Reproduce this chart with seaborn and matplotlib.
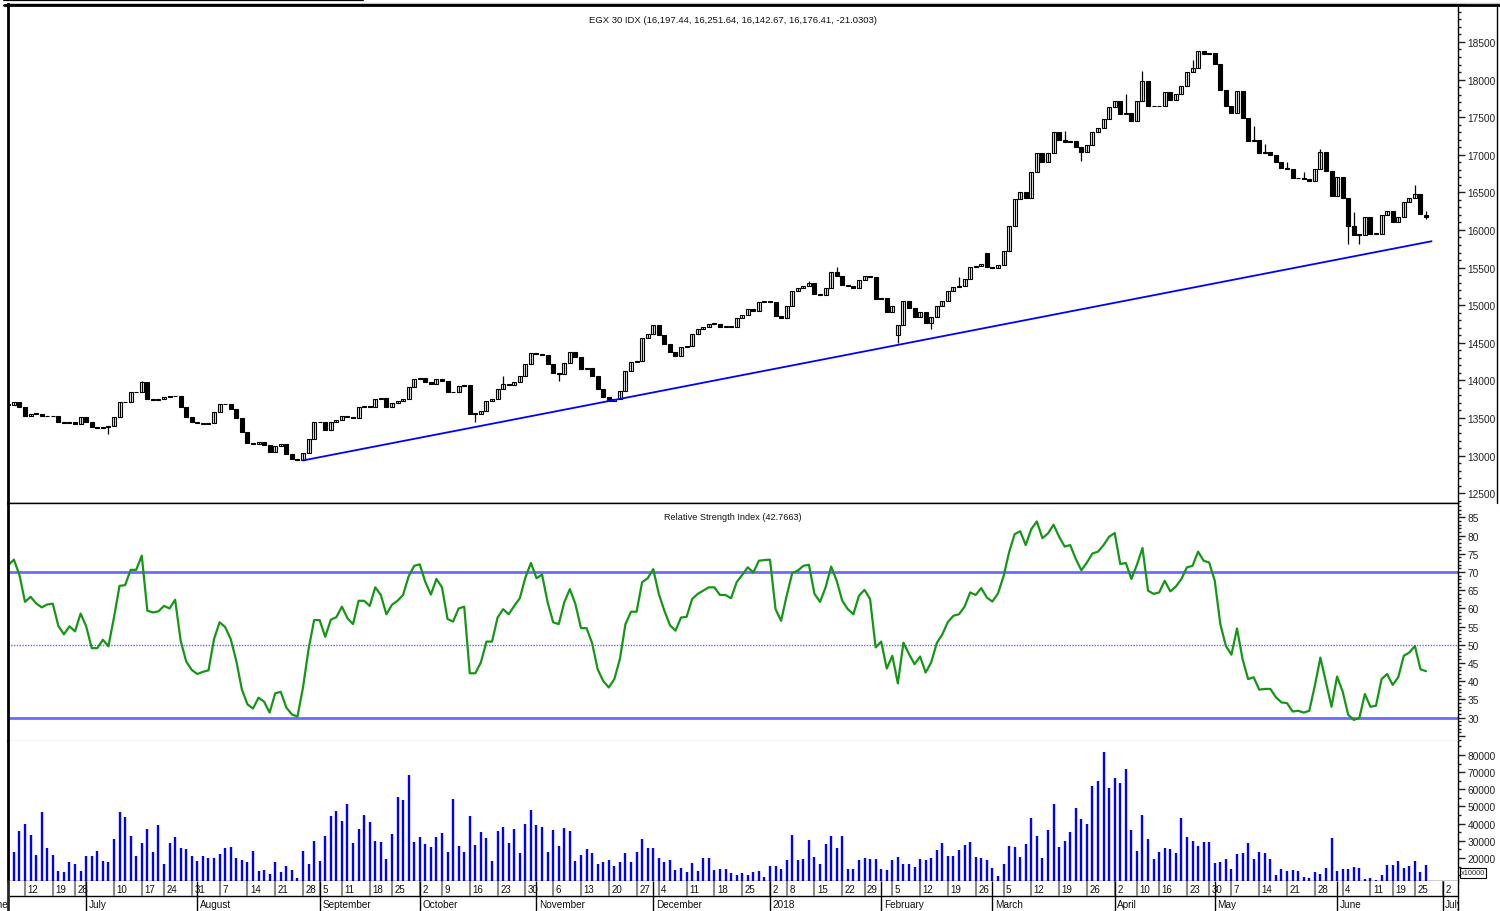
import numpy as np
import pandas as pd
import matplotlib
matplotlib.use("Agg")
import matplotlib.pyplot as plt
from matplotlib.lines import Line2D
from matplotlib.ticker import MultipleLocator, FuncFormatter
import seaborn as sns

# trading calendar (vendor shows Mon-Fri dates, exchange holidays removed)
first_day = "2017-06-07"
holidays = ["2017-06-23", "2017-06-26", "2017-06-27", "2017-06-30", "2017-07-20",
            "2017-08-31", "2017-09-01", "2017-09-04", "2017-09-21", "2017-10-06",
            "2017-11-30", "2018-01-01", "2018-01-05", "2018-01-25", "2018-04-06",
            "2018-04-09", "2018-04-25", "2018-05-01", "2018-06-15", "2018-06-18"]

# EGX 30 daily closes
close = [
    13672, 13708, 13641, 13522, 13553, 13553, 13522, 13522, 13530, 13451,
    13433, 13451, 13420, 13508, 13451, 13375, 13362, 13375, 13389, 13508,
    13708, 13717, 13841, 13850, 13974, 13752, 13743, 13752, 13774, 13788,
    13796, 13641, 13508, 13442, 13429, 13420, 13433, 13575, 13686, 13681,
    13619, 13495, 13318, 13167, 13154, 13185, 13145, 13052, 13132, 13154,
    13021, 12954, 12941, 13030, 13220, 13442, 13451, 13344, 13451, 13477,
    13530, 13508, 13495, 13641, 13663, 13641, 13752, 13761, 13641, 13699,
    13730, 13752, 13907, 14018, 14027, 13974, 13952, 14018, 13996, 13850,
    13841, 13921, 13938, 13553, 13553, 13597, 13730, 13752, 13885, 13952,
    13939, 13974, 14054, 14218, 14364, 14351, 14337, 14218, 14098, 14085,
    14231, 14373, 14306, 14151, 14160, 14063, 13885, 13774, 13730, 13752,
    13863, 14129, 14249, 14262, 14559, 14617, 14736, 14603, 14484, 14373,
    14320, 14440, 14453, 14617, 14683, 14705, 14750, 14750, 14705, 14719,
    14705, 14825, 14869, 14949, 14927, 15038, 15060, 15047, 14860, 14825,
    14985, 15193, 15224, 15259, 15295, 15149, 15135, 15224, 15446, 15384,
    15268, 15251, 15224, 15339, 15392, 15370, 15082, 15091, 14905, 14985,
    14736, 15060, 14958, 14838, 14905, 14763, 14838, 14993, 15060, 15193,
    15237, 15259, 15348, 15503, 15517, 15548, 15503, 15490, 15534, 15725,
    16049, 16412, 16501, 16421, 16767, 17024, 16909, 17024, 17299, 17201,
    17166, 17188, 17099, 17042, 17130, 17299, 17352, 17476, 17631, 17720,
    17543, 17556, 17454, 17720, 17986, 17645, 17645, 17654, 17831, 17733,
    17809, 17920, 18106, 18150, 18385, 18341, 18354, 18208, 17866, 17645,
    17556, 17853, 17485, 17188, 17201, 17024, 17042, 16997, 16909, 16820,
    16811, 16687, 16687, 16678, 16656, 16811, 17033, 16789, 16448, 16700,
    16421, 16049, 15933, 15933, 16168, 15947, 15947, 16199, 16257, 16111,
    16168, 16368, 16421, 16479, 16213, 16176.41]

# opens that gap away from the previous close, and visible wicks
open_fix = {160: 14603, 176: 15694, 255: 16197.44}
high_fix = {24: 13996, 89: 14063, 144: 15326, 149: 15503, 171: 15370, 190: 17321,
            201: 17809, 204: 18119, 213: 18265, 224: 17387, 226: 17144, 230: 16909,
            233: 16767, 236: 17077, 242: 16235, 253: 16598, 255: 16251.64}
low_fix = {18: 13287, 84: 13451, 99: 13996, 160: 14497, 166: 14683, 193: 16922,
           241: 15814, 243: 15814, 255: 16142.67}

rsi = [
    71.9, 73.4, 69.2, 61.8, 63.2, 61.4, 60.3, 61.1, 61.3, 55.2,
    52.9, 55.1, 53.7, 58.6, 55.1, 49.1, 49.1, 51.4, 49.6, 57.5,
    66.2, 66.4, 70.6, 70.6, 74.5, 59.4, 58.9, 59.2, 60.7, 60.0,
    62.4, 51.1, 45.4, 43.1, 42.0, 42.6, 43.0, 51.6, 56.2, 54.9,
    51.6, 45.6, 37.8, 33.7, 32.5, 35.5, 34.4, 31.4, 36.7, 37.1,
    32.8, 30.9, 30.3, 38.3, 48.8, 56.8, 56.8, 52.2, 56.9, 57.6,
    60.5, 57.3, 55.7, 62.1, 62.1, 60.7, 65.8, 63.7, 58.4, 61.0,
    62.1, 63.7, 68.8, 71.7, 72.1, 67.3, 63.8, 68.1, 65.8, 57.1,
    56.4, 60.0, 60.5, 42.2, 42.2, 45.2, 50.9, 50.9, 57.5, 59.8,
    58.4, 60.7, 62.8, 68.5, 72.5, 68.3, 69.3, 61.7, 56.2, 55.7,
    61.7, 65.3, 61.2, 54.6, 54.6, 50.5, 43.3, 40.1, 38.3, 40.6,
    46.1, 55.7, 59.1, 59.1, 67.2, 68.3, 70.8, 64.0, 59.4, 55.4,
    53.9, 57.5, 57.7, 62.6, 64.0, 64.9, 65.8, 65.8, 63.7, 63.7,
    62.8, 67.2, 69.2, 71.3,
    69.9, 73.1, 73.3, 73.4, 59.8, 56.6, 63.5, 69.7, 70.4, 71.7,
    72.0, 64.0, 61.8, 65.8, 71.5, 67.6, 62.1, 59.8, 58.4, 63.5,
    65.1, 62.6, 49.3, 50.9, 43.5, 47.0, 39.4, 50.6, 47.5, 44.7,
    46.8, 42.4, 45.2, 50.5, 52.9, 56.3, 58.0, 58.4, 60.5, 64.4,
    63.7, 65.6, 63.0, 61.9, 64.1, 68.8, 75.4, 80.4, 81.2, 77.4,
    81.8, 83.9, 79.3, 80.6, 83.0, 79.7, 77.0, 77.4, 73.6, 70.5,
    72.6, 75.1, 75.6, 77.4, 79.7, 80.7, 72.2, 72.5, 68.1, 72.0,
    76.6, 64.9, 64.0, 64.4, 67.6, 64.7, 66.0, 68.1, 71.3, 71.7,
    75.6, 73.1, 72.6, 67.6, 55.7, 49.7, 47.3, 54.5, 46.1, 40.6,
    41.1, 37.7, 37.9, 37.9, 35.6, 34.2, 34.0, 31.7, 31.9, 31.4,
    31.9, 38.8, 46.5, 39.7, 33.0, 41.3, 37.2, 30.8, 29.4, 29.9,
    36.5, 33.0, 33.3, 40.6, 42.0, 39.0, 41.1, 47.0, 47.9, 49.7,
    43.3, 42.77]

volume = [
    28700, 23700, 35500, 39600, 33400, 21800, 47000, 25800, 21800, 12600,
    11700, 17900, 16300, 12200, 21400, 21400, 24100, 18500, 17500, 31100,
    47000, 44100, 32600, 21400, 28700, 36900, 23300, 39000, 16700, 28700,
    32000, 26000, 25200, 21400, 18500, 21400, 19800, 20000, 22300, 25800,
    26400, 20200, 19000, 17500, 24100, 12200, 12800, 10500, 17900, 11700,
    15500, 12800, 8200, 24100, 16300, 29900, 18500, 32800, 44300, 47600,
    41400, 51500, 28700, 36900, 45200, 40800, 29900, 29100, 19400, 33800,
    55300, 53800, 68300, 29100, 32200, 28200, 26400, 32000, 34400, 23500,
    54400, 27000, 23500, 44700, 27600, 35200, 31600, 18100, 35700, 37900,
    28700, 36900, 22900, 39600, 48200, 39000, 37900, 23500, 36300, 27000,
    37300, 35700, 18500, 21800, 25200, 22900, 16700, 17900, 19000, 15500,
    17900, 22900, 17900, 23500, 31100, 25800, 25800, 20200, 17900, 19000,
    13200, 14000, 11700, 17300, 12200, 20200, 20200, 12800, 13800, 13800,
    11100, 9900, 11100, 9900,
    11700, 12600, 8900, 15500, 15500, 13600, 19000, 33400, 19000, 19400,
    30500, 20800, 16300, 28000, 32800, 26000, 32800, 13600, 13600, 19000,
    20200, 19400, 19600, 13600, 12800, 19000, 20800, 16300, 16300, 15000,
    19600, 19000, 20200, 24700, 28700, 21400, 21400, 24900, 27600, 29100,
    20800, 20200, 18600, 14000, 9700, 16300, 27000, 26400, 20800, 28200,
    43100, 32800, 20200, 36300, 51500, 26600, 29900, 35000, 49300, 42500,
    39600, 61700, 64700, 81900, 60800, 66400, 63700, 71600, 36300, 24100,
    44900, 31100, 19600, 23500, 25800, 25400, 22900, 43100, 32200, 29900,
    27000, 29300, 29300, 17300, 17900, 19600, 13400, 22100, 23100, 28700,
    19600, 23500, 22700, 19600, 9900, 13800, 12600, 13200, 12200, 8800,
    8200, 11700, 10500, 14400, 31500, 12200, 13400, 13800, 15000, 14400,
    7800, 8200, 7200, 9900, 16100, 16100, 18300, 14400, 15500, 18500,
    12100, 16100]

trend_dates = ["2017-08-28", "2018-06-28"]
trend_prices = [12935, 15850]

title_price = "EGX 30 IDX (16,197.44, 16,251.64, 16,142.67, 16,176.41, -21.0303)"
title_rsi = "Relative Strength Index (42.7663)"

sns.set_style("white")
plt.rcParams["font.family"] = ["Liberation Sans Narrow", "Liberation Sans", "DejaVu Sans"]

# calendar -> bar positions
days = pd.bdate_range("2017-06-01", "2018-07-06")
days = days[~days.isin(pd.to_datetime(holidays))]
pos_all = np.arange(len(days)) - days.get_loc(pd.Timestamp(first_day))
day_pos = dict(zip(days, pos_all))

c = np.array(close, dtype=float)
x = np.arange(len(c))
o = np.r_[c[0], c[:-1]]
for k, v in open_fix.items():
    o[k] = v
hi = np.maximum(o, c)
lo = np.minimum(o, c)
for k, v in high_fix.items():
    hi[k] = max(hi[k], v)
for k, v in low_fix.items():
    lo[k] = min(lo[k], v)
up = c >= o

fig = plt.figure(figsize=(15, 9.12), dpi=100)
L, W = 7.5 / 1500, (1458 - 7.5) / 1500
ax_p = fig.add_axes([L, 1 - 504 / 912, W, (504 - 5) / 912])
ax_r = fig.add_axes([L, 1 - 742 / 912, W, (742 - 504) / 912])
ax_v = fig.add_axes([L, 1 - 882 / 912, W, (882 - 742) / 912])
ax_d = fig.add_axes([L, 0, W, 30 / 912])

xlim = (-0.15, 260.75)
tick_col = "#222222"
for ax in (ax_p, ax_r, ax_v, ax_d):
    ax.set_xlim(*xlim)
    ax.set_xticks([])
    ax.set_facecolor("white")

# candles
ax_p.vlines(x, lo, hi, color="black", lw=0.9)
ax_p.bar(x, np.maximum(np.abs(c - o), 8), bottom=np.minimum(o, c), width=0.72,
         color=np.where(up, "white", "black"), edgecolor="black", linewidth=0.8)
tx = [day_pos[pd.Timestamp(d)] for d in trend_dates]
sns.lineplot(x=tx, y=trend_prices, ax=ax_p, color="#0000ff", lw=1.3)
ax_p.set_ylim(12369, 19005)
ax_p.text(0.5, 0.968, title_price, transform=ax_p.transAxes, ha="center", va="center",
          fontsize=6.8, color="#111111")

# RSI
sns.lineplot(x=x, y=rsi, ax=ax_r, color="#169616", lw=1.6)
for lvl in (70, 30):
    ax_r.axhline(lvl, color="#6b6bff", lw=2, zorder=1)
ax_r.axhline(50, color="#6b6bff", lw=1, ls=(0, (1, 1)), zorder=1)
ax_r.set_ylim(23.6, 88.96)
ax_r.text(0.5, 0.945, title_rsi, transform=ax_r.transAxes, ha="center", va="center",
          fontsize=6.6, color="#111111")

# volume
ax_v.vlines(x, 0, volume, color="#0000ff", lw=1.7)
ax_v.set_ylim(6600, 88140)

for ax, major, minor in ((ax_p, 500, 100), (ax_r, 5, 1), (ax_v, 10000, 5000)):
    ax.set_xlabel("")
    ax.set_ylabel("")
    ax.yaxis.tick_right()
    ax.yaxis.set_major_locator(MultipleLocator(major))
    ax.yaxis.set_minor_locator(MultipleLocator(minor))
    ax.tick_params(axis="y", which="major", length=5, width=1, direction="out", pad=2,
                   labelsize=7.3, colors=tick_col, labelcolor=tick_col)
    ax.tick_params(axis="y", which="minor", length=2.5, width=1, direction="out", colors=tick_col)
    for s in ax.spines.values():
        s.set_color("black")
        s.set_linewidth(1)
    ax.spines["left"].set_linewidth(2)

ax_p.yaxis.set_major_formatter(FuncFormatter(lambda v, _: f"{int(v)}" if 12500 <= v <= 18500 else ""))
ax_r.yaxis.set_major_formatter(FuncFormatter(lambda v, _: f"{int(v)}" if 30 <= v <= 85 else ""))
ax_v.yaxis.set_major_formatter(FuncFormatter(lambda v, _: f"{int(v)}" if v >= 20000 else ""))
ax_r.spines["bottom"].set_color("#c8c8c8")
ax_v.spines["top"].set_visible(False)
fig.text(1461 / 1500, 1 - 874 / 912, "x10000", fontsize=5.3, ha="left", va="center",
         bbox=dict(boxstyle="square,pad=0.15", fc="white", ec="black", lw=0.8))

# date axis: week ticks and month bands
ax_d.set_ylim(0, 1)
ax_d.set_yticks([])
for s in ("top", "bottom", "right"):
    ax_d.spines[s].set_visible(False)
ax_d.spines["left"].set_linewidth(2)
ax_d.axhline(0.5, color="black", lw=1)
ax_d.plot([1.0, 1.0], [0, 1], color="black", lw=1, transform=ax_d.transAxes, clip_on=False)

prev = None
last_label = -99
for d, p in zip(days, pos_all):
    if prev is None or d.to_period("W") != prev.to_period("W"):
        if p >= 0:
            ax_d.vlines(p, 0.5, 1, color="#8a8a8a", lw=1.5)
            if p - last_label > 2:
                ax_d.text(p + 0.45, 0.74, str(d.day), fontsize=7, ha="left", va="center",
                          color="#111111", clip_on=True)
                last_label = p
    if prev is None or d.month != prev.month:
        name = str(d.year) if d.month == 1 else d.strftime("%B")
        if p >= 0:
            ax_d.vlines(p, 0, 1, color="black", lw=1)
            ax_d.text(p + 0.45, 0.24, name, fontsize=7.2, ha="left", va="center",
                      color="#111111", clip_on=True)
        else:
            # month that began before the first bar: its tail peeks out at the left edge
            ax_d.text(0.0, 0.24, name, fontsize=7.2, ha="right", va="center",
                      color="#111111", clip_on=False)
    prev = d

# window frame bits
fig.add_artist(Line2D([4 / 1500, 363 / 1500], [1 - 0.8 / 912] * 2, color="black", lw=1.6))
fig.add_artist(Line2D([363 / 1500, 1], [1 - 4 / 912] * 2, color="#c8c8c8", lw=1))
fig.add_artist(Line2D([4 / 1500, 1], [1 - 5.5 / 912] * 2, color="black", lw=2))
fig.add_artist(Line2D([1497 / 1500] * 2, [1 - 504 / 912, 1 - 5 / 912], color="black", lw=1))

fig.savefig("out.png", dpi=100)
